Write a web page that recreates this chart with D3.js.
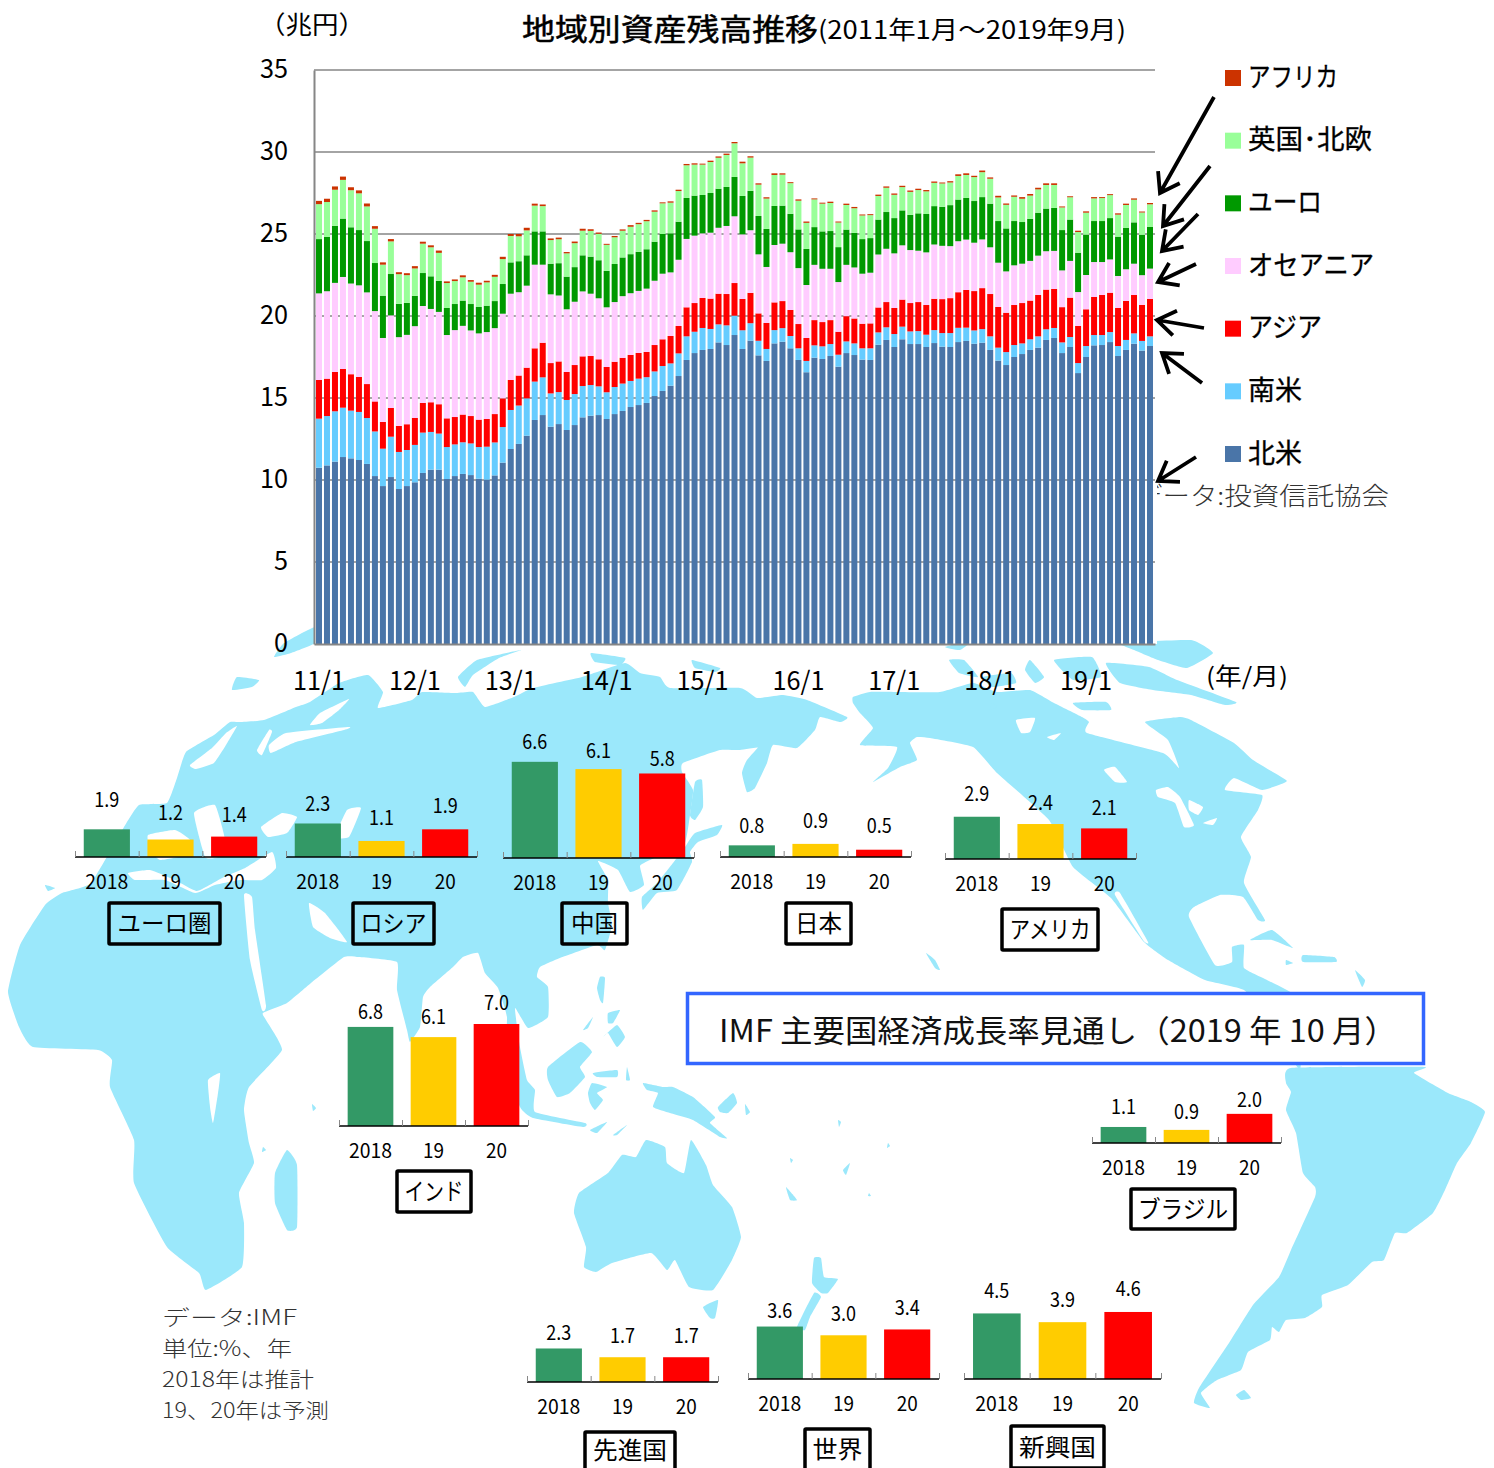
<!DOCTYPE html>
<html>
<head>
<meta charset="utf-8">
<script src="https://cdn.jsdelivr.net/npm/d3@7"></script>
<style>
body { margin: 0; background: #fff; }
text { font-family: "Noto Sans CJK JP", sans-serif; fill: #000; }
</style>
</head>
<body>
<script>
//stacked chart data, in trillion yen, one value per month from 2011/1 to 2019/9
var northAmerica = [10.75,10.89,11.12,11.40,11.32,11.22,10.98,10.24,9.63,10.18,9.45,9.63,9.86,10.43,10.63,10.63,10.06,10.24,10.37,10.30,10.08,10.02,10.28,11.06,11.89,12.20,12.70,13.66,13.96,13.25,13.41,13.05,13.35,13.82,13.92,13.96,13.72,14.02,14.21,14.45,14.57,14.70,15.12,15.43,15.75,16.34,17.32,17.74,17.93,17.99,18.39,18.23,18.84,17.99,18.50,17.60,17.26,18.33,18.43,18.03,17.32,16.57,17.46,17.38,17.56,16.91,17.74,17.62,17.34,17.32,18.25,18.54,18.11,18.58,18.29,18.29,18.11,18.35,18.13,18.11,18.41,18.48,18.31,18.37,17.93,17.28,17.01,17.50,17.68,17.93,18.07,18.54,18.66,17.74,18.11,16.52,17.50,18.21,18.23,18.41,17.56,17.93,18.31,17.89,18.17];
var southAmerica = [2.99,3.01,3.07,3.01,2.91,2.93,2.80,2.72,2.28,2.46,2.26,2.20,2.28,2.46,2.30,2.20,1.95,1.93,1.93,1.93,1.93,2.01,2.01,2.17,2.38,2.34,2.28,2.34,2.30,2.03,1.95,1.83,1.89,1.91,1.87,1.75,1.63,1.65,1.67,1.59,1.61,1.57,1.50,1.52,1.36,1.38,1.44,1.30,1.34,1.22,1.10,1.20,1.18,1.14,1.06,0.89,0.73,0.81,0.83,0.75,0.71,0.69,0.75,0.77,0.73,0.73,0.71,0.71,0.69,0.71,0.75,0.77,0.79,0.77,0.77,0.79,0.75,0.79,0.83,0.85,0.87,0.81,0.81,0.83,0.83,0.79,0.79,0.73,0.65,0.65,0.69,0.65,0.61,0.65,0.61,0.61,0.67,0.63,0.61,0.61,0.61,0.61,0.63,0.59,0.59];
var asia = [2.36,2.28,2.40,2.36,2.22,2.13,2.07,1.83,1.63,1.75,1.59,1.57,1.65,1.81,1.81,1.79,1.75,1.67,1.69,1.67,1.67,1.69,1.73,1.75,1.83,1.83,1.87,2.03,2.11,1.85,1.87,1.71,1.77,1.81,1.77,1.65,1.54,1.54,1.57,1.59,1.57,1.54,1.61,1.63,1.67,1.67,1.77,1.75,1.83,1.85,1.87,1.91,1.99,1.91,1.85,1.67,1.59,1.69,1.65,1.59,1.48,1.40,1.54,1.48,1.46,1.40,1.54,1.52,1.50,1.52,1.52,1.54,1.59,1.65,1.73,1.77,1.81,1.91,2.07,2.13,2.17,2.30,2.40,2.50,2.58,2.48,2.40,2.44,2.46,2.36,2.52,2.42,2.38,2.15,2.40,2.26,2.24,2.32,2.44,2.40,2.32,2.38,2.34,2.20,2.28];
var oceania = [5.28,5.33,5.43,5.61,5.53,5.59,5.59,5.51,5.12,5.65,5.41,5.45,5.59,5.91,5.69,5.63,5.08,5.30,5.41,5.22,5.26,5.30,5.24,5.16,5.26,5.08,5.00,5.10,4.76,4.19,4.02,3.82,3.86,3.96,3.80,3.72,3.64,3.64,3.76,3.76,3.78,3.86,3.92,4.00,3.88,4.04,4.17,4.11,3.94,4.02,4.02,4.15,4.07,3.94,3.82,3.60,3.41,3.50,3.50,3.52,3.41,3.23,3.37,3.25,3.13,3.03,3.13,3.11,3.05,3.09,3.23,3.25,3.33,3.31,3.23,3.13,3.21,3.31,3.25,3.17,3.11,3.07,2.95,2.97,2.85,2.70,2.52,2.42,2.40,2.42,2.40,2.34,2.32,2.24,2.24,2.07,2.09,2.13,2.01,2.03,1.95,1.93,1.91,1.81,1.85];
var euro = [3.31,3.31,3.48,3.56,3.43,3.37,3.13,2.93,2.58,2.52,2.03,1.95,1.85,2.01,1.99,1.89,1.65,1.59,1.54,1.61,1.61,1.61,1.65,1.81,1.91,1.89,1.85,2.03,2.03,1.87,1.97,1.99,2.11,2.20,2.26,2.32,2.22,2.32,2.36,2.38,2.38,2.40,2.38,2.42,2.38,2.32,2.50,2.44,2.34,2.42,2.38,2.38,2.40,2.34,2.40,2.34,2.32,2.38,2.32,2.34,2.36,2.20,2.30,2.28,2.30,2.13,2.15,2.11,2.11,2.11,2.13,2.24,2.15,2.13,2.15,2.28,2.34,2.34,2.38,2.50,2.54,2.54,2.54,2.58,2.66,2.54,2.62,2.70,2.54,2.56,2.62,2.60,2.62,2.46,2.52,2.40,2.46,2.50,2.50,2.52,2.40,2.52,2.52,2.46,2.54];
var ukNordic = [2.13,2.13,2.20,2.36,2.26,2.24,2.11,2.09,1.89,1.99,1.81,1.69,1.67,1.79,1.77,1.71,1.52,1.40,1.42,1.36,1.36,1.42,1.48,1.52,1.61,1.52,1.52,1.57,1.54,1.44,1.46,1.42,1.46,1.50,1.57,1.61,1.59,1.63,1.63,1.67,1.69,1.71,1.83,1.87,1.87,1.87,1.99,1.89,1.85,1.89,1.89,1.95,2.05,1.99,2.03,1.91,1.85,1.89,1.89,1.87,1.75,1.59,1.69,1.69,1.71,1.50,1.50,1.50,1.44,1.40,1.44,1.48,1.42,1.42,1.40,1.42,1.38,1.42,1.42,1.38,1.44,1.40,1.46,1.52,1.52,1.44,1.44,1.48,1.42,1.42,1.42,1.44,1.40,1.38,1.36,1.26,1.34,1.38,1.40,1.40,1.34,1.40,1.38,1.36,1.38];
var africa = [0.20,0.20,0.20,0.20,0.18,0.18,0.18,0.16,0.14,0.14,0.12,0.12,0.14,0.12,0.12,0.14,0.10,0.10,0.12,0.10,0.12,0.10,0.12,0.14,0.12,0.14,0.16,0.12,0.10,0.10,0.10,0.08,0.10,0.12,0.10,0.08,0.06,0.08,0.08,0.10,0.08,0.08,0.08,0.06,0.08,0.08,0.08,0.08,0.06,0.08,0.08,0.08,0.08,0.10,0.08,0.08,0.08,0.10,0.08,0.06,0.08,0.08,0.06,0.06,0.08,0.06,0.08,0.08,0.06,0.06,0.08,0.08,0.08,0.08,0.08,0.08,0.08,0.08,0.06,0.08,0.10,0.10,0.08,0.10,0.08,0.10,0.08,0.08,0.10,0.10,0.10,0.10,0.10,0.06,0.06,0.08,0.08,0.08,0.06,0.06,0.08,0.08,0.08,0.06,0.08];

var seriesNames = ["北米", "南米", "アジア", "オセアニア", "ユーロ", "英国･北欧", "アフリカ"];
var seriesColors = ["#4a75a8", "#66ccff", "#ff0000", "#ffccff", "#009900", "#99ff99", "#cc3300"];
var yTicks = [0, 5, 10, 15, 20, 25, 30, 35];
var yearLabels = ["11/1", "12/1", "13/1", "14/1", "15/1", "16/1", "17/1", "18/1", "19/1"];

//IMF growth forecasts, one value per country
var countryNames = ["ユーロ圏", "ロシア", "中国", "日本", "アメリカ", "インド", "ブラジル", "先進国", "世界", "新興国"];
var yearNames = ["2018", "19", "20"];
var growth2018 = [1.9, 2.3, 6.6, 0.8, 2.9, 6.8, 1.1, 2.3, 3.6, 4.5];
var growth2019 = [1.2, 1.1, 6.1, 0.9, 2.4, 6.1, 0.9, 1.7, 3.0, 3.9];
var growth2020 = [1.4, 1.9, 5.8, 0.5, 2.1, 7.0, 2.0, 1.7, 3.4, 4.6];
var yearColors = ["#339966", "#ffcc00", "#ff0000"];

//where each little country chart sits: axis ends, baseline, value label heights, name box, name text width
var miniLayout = [
    {x0: 75, x1: 266, base: 857, labelY: [800, 813, 815], box: [109, 903, 220, 944], nameW: 94},
    {x0: 286, x1: 477, base: 857, labelY: [804, 818, 806], box: [353, 903, 434, 944], nameW: 66},
    {x0: 503, x1: 694, base: 858, labelY: [742, 751, 759], box: [562, 903, 627, 944], nameW: 47},
    {x0: 720, x1: 911, base: 857, labelY: [826, 821, 826], box: [786, 903, 851, 944], nameW: 47},
    {x0: 945, x1: 1136, base: 859, labelY: [794, 803, 808], box: [1002, 909, 1098, 950], nameW: 81},
    {x0: 339, x1: 528, base: 1126, labelY: [1012, 1017, 1003], box: [397, 1171, 471, 1212], nameW: 59},
    {x0: 1092, x1: 1281, base: 1143, labelY: [1107, 1112, 1100], box: [1131, 1189, 1235, 1229], nameW: 90},
    {x0: 527, x1: 718, base: 1382, labelY: [1333, 1336, 1336], box: [585, 1432, 675, 1473], nameW: 74},
    {x0: 748, x1: 939, base: 1379, labelY: [1311, 1314, 1308], box: [805, 1429, 870, 1470], nameW: 50},
    {x0: 964, x1: 1161, base: 1379, labelY: [1291, 1300, 1289], box: [1011, 1426, 1104, 1468], nameW: 77}
];

//arrows from the legend to the last bar [x1, y1, x2, y2]
var arrows = [
    [1214, 97, 1160, 193],
    [1210, 166, 1163, 226],
    [1198, 214, 1162, 251],
    [1196, 264, 1158, 282],
    [1204, 328, 1157, 320],
    [1202, 383, 1162, 353],
    [1196, 457, 1158, 481]
];

//hand traced outlines of the background map
var land = [
    //eurasia and africa
    [[8,992],[20,945],[45,905],[62,893],[91,883],[124,827],[139,805],[167,803],[177,778],[186,752],[214,735],[230,722],[240,722],[264,720],[296,707],[310,702],[339,683],[368,675],[383,692],[378,708],[412,700],[422,692],[456,693],[473,692],[485,707],[514,697],[533,688],[582,677],[625,663],[640,673],[660,677],[670,688],[740,688],[757,698],[783,695],[807,700],[847,717],[840,722],[820,717],[815,730],[797,748],[773,745],[767,763],[755,788],[747,792],[742,773],[747,760],[768,737],[770,745],[740,750],[720,750],[683,763],[682,772],[693,790],[690,815],[684,845],[650,860],[640,866],[644,885],[630,892],[618,870],[598,861],[608,880],[608,903],[612,925],[605,950],[597,945],[560,958],[540,967],[537,977],[548,987],[548,1017],[528,1028],[515,1008],[520,1047],[527,1080],[535,1090],[535,1112],[585,1123],[583,1127],[533,1118],[520,1107],[505,1060],[507,1017],[498,988],[485,973],[478,953],[463,957],[453,967],[430,987],[423,997],[420,1027],[410,1042],[407,1030],[397,990],[397,962],[359,957],[344,957],[311,983],[287,1003],[263,1013],[266,1020],[282,1050],[249,1087],[244,1110],[249,1143],[254,1163],[239,1193],[244,1223],[242,1267],[206,1290],[199,1273],[167,1247],[134,1183],[134,1140],[110,1087],[112,1060],[98,1050],[33,1047],[19,1027]],
    //north america
    [[853,697],[870,692],[897,692],[940,692],[973,683],[997,692],[1030,690],[1054,703],[1082,717],[1089,722],[1087,733],[1163,753],[1179,768],[1168,740],[1145,722],[1180,717],[1191,720],[1234,743],[1253,760],[1286,780],[1284,783],[1262,790],[1234,778],[1225,790],[1262,795],[1258,810],[1241,837],[1251,857],[1244,883],[1265,920],[1258,920],[1243,897],[1220,895],[1194,907],[1189,917],[1215,965],[1232,962],[1232,947],[1244,945],[1244,968],[1267,980],[1300,1000],[1300,1070],[1270,1020],[1244,990],[1205,980],[1168,960],[1144,942],[1111,898],[1073,867],[1049,820],[997,773],[973,747],[930,738],[917,737],[910,743],[917,760],[900,767],[873,782],[888,768],[897,747],[860,745],[873,728],[860,713],[853,703]],
    //south america
    [[1291,1068],[1424,1067],[1414,1073],[1448,1093],[1471,1102],[1485,1112],[1471,1143],[1457,1163],[1445,1190],[1433,1213],[1407,1233],[1395,1233],[1384,1260],[1372,1262],[1348,1285],[1322,1295],[1322,1307],[1305,1318],[1286,1320],[1279,1332],[1272,1327],[1270,1340],[1248,1352],[1241,1370],[1217,1380],[1201,1393],[1210,1408],[1194,1403],[1199,1388],[1229,1343],[1253,1305],[1279,1277],[1291,1250],[1315,1197],[1315,1187],[1303,1173],[1296,1133],[1286,1110],[1291,1092],[1286,1083]],
    //australia, tasmania, new zealand
    [[574,1213],[579,1193],[608,1173],[622,1155],[636,1157],[646,1140],[665,1147],[667,1163],[684,1173],[691,1140],[706,1165],[713,1185],[732,1207],[741,1237],[732,1260],[713,1290],[689,1287],[675,1260],[667,1270],[651,1253],[612,1263],[596,1272],[584,1267],[586,1247]],
    [[703,1307],[718,1300],[715,1318],[710,1318]],
    [[814,1258],[821,1258],[824,1277],[838,1279],[828,1293],[821,1293],[812,1283]],
    [[814,1293],[821,1297],[810,1317],[805,1330],[797,1327]],
    //madagascar and small atlantic spots
    [[287,1150],[297,1165],[297,1227],[287,1230],[275,1203],[275,1173]],
    [[45,885],[55,888],[48,891]],[[263,1147],[266,1150],[262,1152]],[[312,1104],[316,1108],[313,1111]],
    //top of the map near the plot
    [[274,657],[284,643],[315,627],[315,643],[291,653]],
    [[232,690],[237,677],[259,680],[252,687]],
    [[458,677],[477,660],[521,650],[499,658],[473,675],[465,687]],
    [[591,653],[625,658],[620,665],[595,662]],
    [[692,660],[720,668],[715,672],[695,668]],
    //japan and sakhalin
    [[685,847],[695,833],[722,825],[717,835],[698,842],[690,852],[692,862],[677,890],[657,893],[643,910],[642,897],[657,883],[673,863]],
    [[695,782],[702,780],[703,807],[695,820],[690,815]],
    //southeast asia
    [[548,1067],[580,1042],[592,1052],[580,1067],[585,1077],[570,1093],[557,1097],[548,1080]],
    [[588,1093],[592,1083],[607,1087],[597,1093],[603,1100],[595,1110],[590,1103]],
    [[593,1073],[617,1070],[617,1077],[597,1077]],
    [[600,977],[605,978],[603,1003],[600,1000],[597,988]],
    [[603,1037],[617,1025],[625,1037],[617,1047],[608,1033]],
    [[608,1013],[620,1010],[613,1023],[608,1023]],
    [[583,1030],[593,1017],[588,1028]],
    [[643,1083],[663,1087],[673,1087],[693,1097],[715,1117],[710,1123],[727,1138],[720,1137],[693,1120],[670,1113],[653,1107],[658,1093],[647,1090]],
    [[627,1067],[630,1080],[626,1080]],
    [[590,1130],[607,1122],[597,1133]],[[613,1135],[627,1125],[617,1135]],
    [[718,1107],[733,1093],[737,1103],[728,1113],[720,1112]],
    [[745,1104],[750,1112],[746,1115]],
    //pacific spots
    [[838,1120],[841,1122],[839,1127]],[[888,1143],[890,1146],[887,1148]],[[843,1170],[850,1163],[846,1175]],[[786,1187],[797,1200],[790,1200]],[[869,1193],[871,1196],[868,1196]],[[790,1158],[793,1160],[791,1163]],[[926,953],[935,960],[940,970],[935,968]],
    //canadian islands
    [[1120,643],[1191,640],[1213,653],[1187,668],[1158,660],[1134,650]],
    [[1106,663],[1149,667],[1177,680],[1236,702],[1225,705],[1191,695],[1153,690],[1120,683]],
    [[1054,660],[1092,657],[1101,677],[1073,680]],
    [[1073,703],[1106,702],[1111,710],[1082,710]],
    [[1030,660],[1044,677],[1035,683],[1025,670]],
    [[983,677],[1011,673],[1016,683],[992,687]],
    [[949,660],[964,660],[978,677],[959,673]],
    [[945,647],[973,640],[960,650]],
    [[992,703],[997,707],[990,710]],
    //caribbean and falklands
    [[1250,940],[1272,930],[1293,948],[1272,940]],
    [[1303,955],[1334,957],[1336,962],[1303,962]],
    [[1286,960],[1293,963],[1286,965]],
    [[1355,970],[1365,980],[1362,987]],
    [[1236,1395],[1244,1390],[1251,1398],[1241,1400]]
];
var water = [
    //mediterranean and european seas
    [[128,873],[150,870],[175,880],[197,891],[222,878],[245,868],[272,852],[276,868],[262,880],[240,880],[215,885],[195,893],[165,880],[135,880]],
    [[148,835],[175,830],[190,840],[185,855],[160,860],[150,850]],
    [[194,813],[215,805],[225,840],[218,857],[205,857]],
    [[261,827],[282,813],[297,817],[287,833],[268,837]],
    [[347,810],[361,808],[349,837],[335,837]],
    //slits around scandinavia
    [[190,765],[212,748],[226,733],[237,726],[226,745],[214,763],[196,769]],
    [[269,745],[286,733],[349,727],[344,730],[296,742],[271,753]],
    [[310,725],[320,713],[349,699],[339,710],[322,723]],
    [[257,750],[269,730],[272,732],[262,755]],
    //persian gulf, red sea, lake victoria
    [[309,903],[325,913],[347,942],[330,938],[313,927]],
    [[244,895],[252,897],[255,930],[266,1005],[262,1010],[250,960]],
    [[208,1080],[220,1073],[218,1093],[213,1123],[210,1107]],
    //north american lakes and baja
    [[1115,895],[1120,893],[1148,942],[1143,940]],
    [[1156,790],[1168,787],[1180,797],[1194,825],[1184,827],[1175,803],[1158,797]],
    [[1189,800],[1203,807],[1198,815],[1189,810]],
    [[1203,823],[1217,818],[1213,825]],
    [[1104,770],[1115,767],[1127,782],[1115,782]],
    [[1016,720],[1035,718],[1030,732],[1021,733]],
    [[1047,737],[1061,733],[1054,740]]
];

window.onload = drawPage();

function drawPage(){
    var svg = d3.select("body")
        .append("svg")
        .attr("width", 1494)
        .attr("height", 1468)
        .style("display", "block");

    drawMap(svg);

    //source line sits under the plot plate, so the plate cuts its first letter
    addText(svg, "データ:投資信託協会", 1135, 496, 25, 254, "start").style("fill", "#333").style("font-weight", 300);
    svg.append("rect")
        .attr("x", 314).attr("y", 60)
        .attr("width", 843).attr("height", 584)
        .attr("fill", "#fff");

    drawStacked(svg);
    drawLegend(svg);
    drawTitles(svg);
    drawMiniCharts(svg);
    drawNotes(svg);
}

//text helper, width is forced so the narrow look of the original is kept
//the central baseline of this font sits about 2px low, so y is pulled up
function addText(parent, str, x, y, size, width, anchor){
    return parent.append("text")
        .attr("x", x)
        .attr("y", y - 2)
        .attr("font-size", size)
        .attr("text-anchor", anchor || "middle")
        .attr("dominant-baseline", "central")
        .attr("textLength", width)
        .attr("lengthAdjust", "spacingAndGlyphs")
        .text(str);
}

function drawMap(svg){
    var outline = d3.line().curve(d3.curveCardinalClosed.tension(0.6));

    svg.append("g").selectAll("path")
        .data(land)
        .enter()
        .append("path")
        .attr("d", outline)
        .attr("fill", "#9be8fb");

    svg.append("g").selectAll("path")
        .data(water)
        .enter()
        .append("path")
        .attr("d", outline)
        .attr("fill", "#fff");
}

function drawStacked(svg){
    var months = d3.range(northAmerica.length);
    var allSeries = [northAmerica, southAmerica, asia, oceania, euro, ukNordic, africa];

    var x = d3.scaleBand()
        .domain(months)
        .range([314, 1155])
        .padding(0.25);

    var y = d3.scaleLinear()
        .domain([0, 35])
        .range([644, 70]);

    //gridlines stay behind the bars and only show in the gaps
    svg.append("g").selectAll("line")
        .data(yTicks.slice(1))
        .enter()
        .append("line")
        .attr("x1", 314)
        .attr("x2", 1155)
        .attr("y1", function(d){ return y(d); })
        .attr("y2", function(d){ return y(d); })
        .attr("stroke", "#868686")
        .attr("stroke-width", 1.5);

    var stack = d3.stack()
        .keys(d3.range(allSeries.length))
        .value(function(m, k){ return allSeries[k][m]; });

    svg.append("g").selectAll("g")
        .data(stack(months))
        .enter()
        .append("g")
        .attr("fill", function(d){ return seriesColors[d.key]; })
        .selectAll("rect")
        .data(function(d){ return d; })
        .enter()
        .append("rect")
        .attr("x", function(d){ return x(d.data); })
        .attr("width", x.bandwidth())
        .attr("y", function(d){ return y(d[1]); })
        .attr("height", function(d){ return y(d[0]) - y(d[1]); });

    //axes
    var yAxis = svg.append("g")
        .attr("transform", "translate(314,0)")
        .call(d3.axisLeft(y).tickValues(yTicks).tickSize(0).tickPadding(26));
    yAxis.select(".domain").attr("stroke", "#868686").attr("stroke-width", 2);
    yAxis.selectAll("text")
        .attr("font-size", 26)
        .attr("font-family", null)
        .attr("dy", "0.28em")
        .attr("textLength", function(d){ return d < 10 ? 14 : 28; })
        .attr("lengthAdjust", "spacingAndGlyphs");

    var xAxis = svg.append("g")
        .attr("transform", "translate(0,644)")
        .call(d3.axisBottom(x)
            .tickValues(months.filter(function(m){ return m % 12 == 0; }))
            .tickSize(0)
            .tickPadding(38)
            .tickFormat(function(m){ return yearLabels[m / 12]; }));
    xAxis.select(".domain").attr("stroke", "#868686").attr("stroke-width", 2);
    xAxis.selectAll("text")
        .attr("font-size", 26)
        .attr("font-family", null)
        .attr("dy", "0.32em")
        .attr("textLength", 52)
        .attr("lengthAdjust", "spacingAndGlyphs");
}

function drawLegend(svg){
    //legend reads from the top of the stack down
    var rows = d3.range(seriesNames.length).reverse();
    var widths = [90, 124, 74, 126, 74, 54, 54];
    var rowY = d3.scalePoint().domain(rows).range([78, 454]);

    svg.append("g").selectAll("rect")
        .data(rows)
        .enter()
        .append("rect")
        .attr("x", 1225)
        .attr("y", function(d){ return rowY(d) - 8; })
        .attr("width", 16)
        .attr("height", 16)
        .attr("fill", function(d){ return seriesColors[d]; });

    rows.forEach(function(d){
        addText(svg, seriesNames[d], 1248, rowY(d) - 1, 27, widths[6 - d], "start")
            .style("stroke", "#000")
            .style("stroke-width", 0.3);
    });

    //arrows with open heads
    var line = d3.line();
    svg.append("g").selectAll("path")
        .data(arrows)
        .enter()
        .append("path")
        .attr("d", function(a){
            var angle = Math.atan2(a[1] - a[3], a[0] - a[2]);
            var len = 22, spread = 0.6;
            var b1 = [a[2] + len * Math.cos(angle + spread), a[3] + len * Math.sin(angle + spread)];
            var b2 = [a[2] + len * Math.cos(angle - spread), a[3] + len * Math.sin(angle - spread)];
            return line([[a[0], a[1]], [a[2], a[3]]]) + line([b1, [a[2], a[3]], b2]);
        })
        .attr("fill", "none")
        .attr("stroke", "#000")
        .attr("stroke-width", 3.8);
}

function drawTitles(svg){
    addText(svg, "地域別資産残高推移", 522, 29, 30, 296, "start")
        .style("stroke", "#000")
        .style("stroke-width", 0.5);
    addText(svg, "(2011年1月～2019年9月)", 818, 30, 25, 308, "start");
    addText(svg, "（兆円）", 312, 25, 25, 106);
    addText(svg, "(年/月)", 1206, 676, 24, 82, "start");
}

function drawMiniCharts(svg){
    miniLayout.forEach(function(m, i){
        var values = [growth2018[i], growth2019[i], growth2020[i]];
        var g = svg.append("g");

        var x = d3.scaleBand()
            .domain(yearNames)
            .range([m.x0, m.x1])
            .paddingInner(0.275)
            .paddingOuter(0.1375);

        var y = d3.scaleLinear()
            .domain([0, 7])
            .range([m.base, m.base - 102]);

        g.selectAll("rect")
            .data(values)
            .enter()
            .append("rect")
            .attr("x", function(d, j){ return x(yearNames[j]); })
            .attr("width", x.bandwidth())
            .attr("y", function(d){ return y(d); })
            .attr("height", function(d){ return m.base - y(d); })
            .attr("fill", function(d, j){ return yearColors[j]; });

        //small ticks between the categories, pointing up
        var edges = d3.scaleLinear().domain([0, 3]).range([m.x0, m.x1]);
        var axis = g.append("g")
            .attr("transform", "translate(0," + m.base + ")")
            .call(d3.axisBottom(edges).tickValues([0, 1, 2, 3]).tickSize(-6).tickFormat(""));
        axis.select(".domain").attr("d", "M" + m.x0 + ",0H" + m.x1).attr("stroke", "#000").attr("stroke-width", 1.5);
        axis.selectAll(".tick line").attr("stroke", "#888");

        values.forEach(function(v, j){
            var cx = x(yearNames[j]) + x.bandwidth() / 2;
            addText(g, v.toFixed(1), cx, m.labelY[j], 20, 25);
            addText(g, yearNames[j], cx, m.base + 25, 20, j == 0 ? 43 : 21);
        });

        g.append("rect")
            .attr("x", m.box[0])
            .attr("y", m.box[1])
            .attr("width", m.box[2] - m.box[0])
            .attr("height", m.box[3] - m.box[1])
            .attr("rx", 1)
            .attr("fill", "none")
            .attr("stroke", "#000")
            .attr("stroke-width", 3.5);
        //keep the name inside the page where the box runs off the bottom
        addText(g, countryNames[i], (m.box[0] + m.box[2]) / 2, Math.min((m.box[1] + m.box[3]) / 2, 1450), 24, m.nameW);
    });
}

function drawNotes(svg){
    svg.append("rect")
        .attr("x", 687.5).attr("y", 993.5)
        .attr("width", 736).attr("height", 70)
        .attr("fill", "#fff")
        .attr("stroke", "#3366ff")
        .attr("stroke-width", 3.5);
    addText(svg, "IMF 主要国経済成長率見通し（2019 年 10 月）", 719, 1030, 31, 678, "start").style("fill", "#111");

    var notes = ["データ:IMF", "単位:%、年", "2018年は推計", "19、20年は予測"];
    var noteWidths = [135, 130, 152, 167];
    var noteY = d3.scalePoint().domain(notes).range([1316, 1409]);
    notes.forEach(function(n, i){
        addText(svg, n, 162, noteY(n) + 2, 21, noteWidths[i], "start").style("fill", "#333").style("font-weight", 300);
    });
}
</script>
</body>
</html>
